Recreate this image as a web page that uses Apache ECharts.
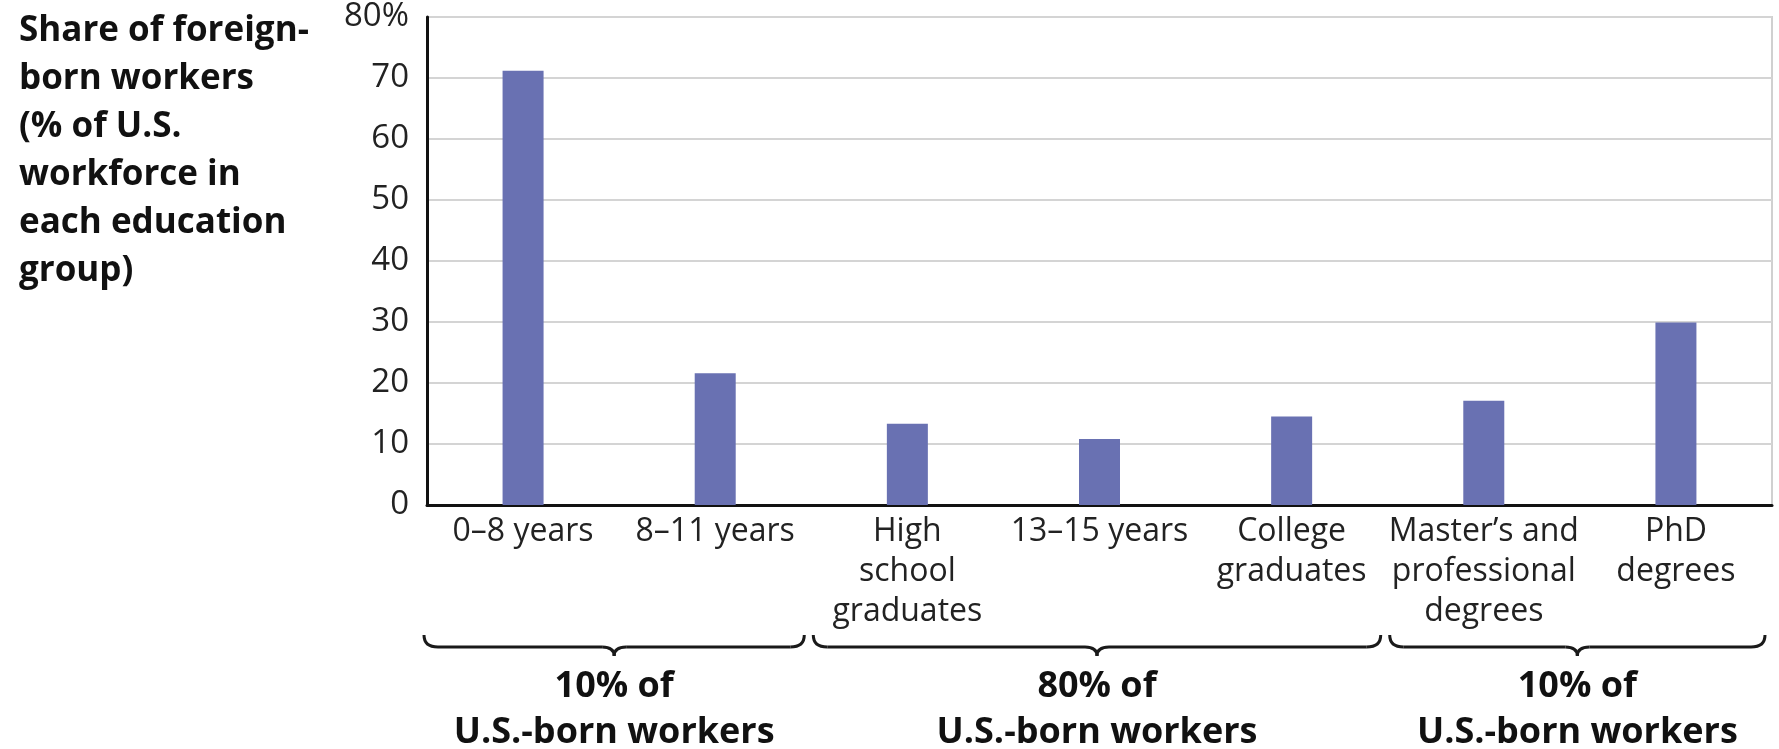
<!DOCTYPE html>
<html>
<head>
<meta charset="utf-8">
<script src="https://cdn.jsdelivr.net/npm/echarts@6/dist/echarts.min.js"></script>
<style>
html,body{margin:0;padding:0;background:#fff;}
#chart{width:1779px;height:749px;}
</style>
</head>
<body>
<div id="chart"></div>
<script>
const categories = ["0\u20138 years", "8\u201311 years", "High\nschool\ngraduates", "13\u201315 years", "College\ngraduates", "Master\u2019s and\nprofessional\ndegrees", "PhD\ndegrees"];
const shares = [71.2, 21.6, 13.3, 10.8, 14.5, 17.1, 29.9];
const yTicks = [0, 10, 20, 30, 40, 50, 60, 70, 80];
const groupRanges = [[0, 1], [2, 4], [5, 6]];
const groupLabels = ["10% of\nU.S.-born workers", "80% of\nU.S.-born workers", "10% of\nU.S.-born workers"];
const titleText = "Share of foreign-\nborn workers\n(% of U.S.\nworkforce in\neach education\ngroup)";

const FONT = "'Open Sans', 'DejaVu Sans', sans-serif";
const chart = echarts.init(document.getElementById('chart'), null, {renderer: 'canvas'});

const option = {
  backgroundColor: '#ffffff',
  animation: false,
  title: {
    text: titleText,
    left: 14,
    top: 2,
    textStyle: {fontFamily: FONT, fontSize: 35, fontWeight: 'bold', color: '#111', lineHeight: 48}
  },
  grid: {left: 427, right: 7, top: 17, bottom: 244, show: true, borderColor: '#d0d0d0', borderWidth: 2},
  xAxis: {
    type: 'category',
    data: categories,
    axisLine: {lineStyle: {color: '#111', width: 3}},
    axisTick: {show: false},
    axisLabel: {interval: 0, fontFamily: FONT, fontSize: 32, color: '#222', lineHeight: 40, margin: 7}
  },
  yAxis: {
    type: 'value',
    min: yTicks[0],
    max: yTicks[yTicks.length - 1],
    interval: 10,
    axisLine: {show: true, lineStyle: {color: '#111', width: 3}},
    axisTick: {show: false},
    splitLine: {lineStyle: {color: '#d4d4d4', width: 2}},
    axisLabel: {
      fontFamily: FONT, fontSize: 33, color: '#222', margin: 18,
      formatter: v => v === yTicks[yTicks.length - 1] ? v + '%' : String(v)
    }
  },
  series: [{
    type: 'bar',
    data: shares,
    barWidth: 41,
    itemStyle: {color: '#6971b2'}
  }]
};
chart.setOption(option);

// Braces and group labels positioned from the category axis
const p0 = chart.convertToPixel({xAxisIndex: 0}, 0);
const p1 = chart.convertToPixel({xAxisIndex: 0}, 1);
const band = p1 - p0;
const yTop = 635, yMid = 647, yTip = 656;
const stroke = {stroke: '#1a1a1a', lineWidth: 3, fill: null};
const graphics = [];
function curve(xa, ya, cx, cy, xb, yb) {
  graphics.push({type: 'bezierCurve', shape: {x1: xa, y1: ya, x2: xb, y2: yb, cpx1: cx, cpy1: cy}, style: stroke});
}
function seg(xa, ya, xb, yb) {
  graphics.push({type: 'line', shape: {x1: xa, y1: ya, x2: xb, y2: yb}, style: stroke});
}
groupRanges.forEach((r, i) => {
  const x0 = chart.convertToPixel({xAxisIndex: 0}, r[0]) - band / 2 + (i === 0 ? -3 : 2);
  const x1 = chart.convertToPixel({xAxisIndex: 0}, r[1]) + band / 2 - 7;
  const cx = (x0 + x1) / 2;
  curve(x0, yTop, x0, yMid, x0 + 14, yMid);
  seg(x0 + 14, yMid, cx - 12, yMid);
  curve(cx - 12, yMid, cx, yMid, cx, yTip);
  curve(cx, yTip, cx, yMid, cx + 12, yMid);
  seg(cx + 12, yMid, x1 - 14, yMid);
  curve(x1 - 14, yMid, x1, yMid, x1, yTop);
  graphics.push({
    type: 'text',
    x: cx,
    y: 664,
    style: {
      text: groupLabels[i], fill: '#111', font: `bold 36px ${FONT}`,
      textAlign: 'center', textVerticalAlign: 'top', lineHeight: 46
    }
  });
});
chart.setOption({graphic: graphics});
</script>
</body>
</html>
